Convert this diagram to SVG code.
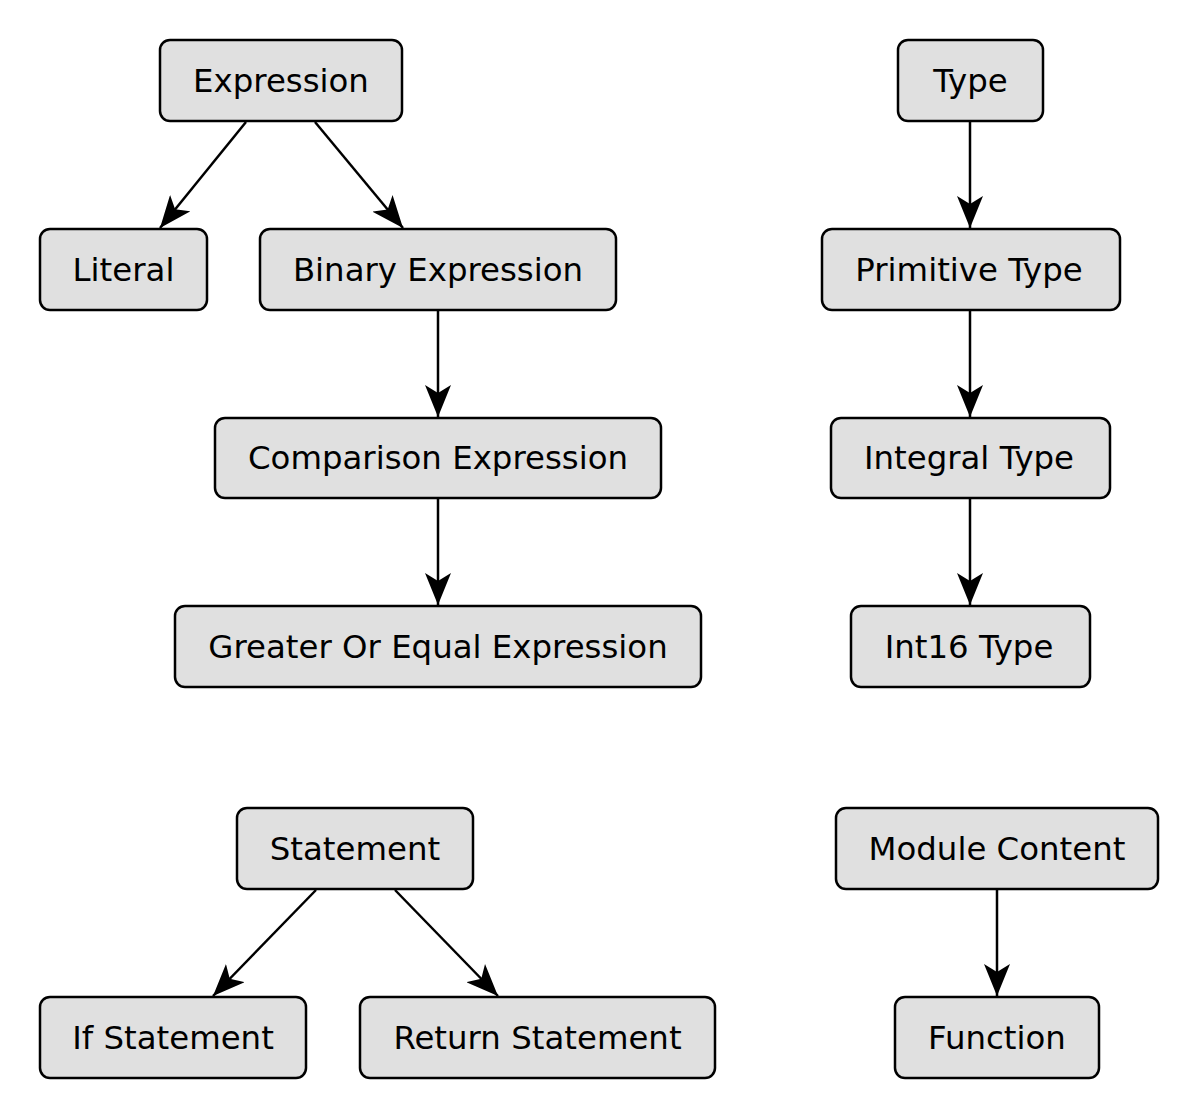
<svg xmlns="http://www.w3.org/2000/svg" width="1200" height="1119" viewBox="0 0 1200 1119">
<style>
.box{fill:#e0e0e0;stroke:#000;stroke-width:2.5}
.lbl{font-family:"DejaVu Sans",sans-serif;font-size:32.4px;fill:#000;text-anchor:middle}
.edge{stroke:#000;stroke-width:2.5;fill:none;marker-end:url(#arr)}
</style>
<defs>
<marker id="arr" viewBox="0 0 32 26" refX="32" refY="13" markerWidth="32" markerHeight="26" markerUnits="userSpaceOnUse" orient="auto">
<path d="M0,0 L32,13 L0,26 L8,13 Z" fill="#000"/>
</marker>
</defs>
<rect width="1200" height="1119" fill="#fff"/>
<g id="connectors">
<line class="edge" x1="246" y1="122" x2="160" y2="228"/>
<line class="edge" x1="315" y1="122" x2="403" y2="228"/>
<line class="edge" x1="438" y1="311" x2="438" y2="417"/>
<line class="edge" x1="438" y1="499" x2="438" y2="605"/>
<line class="edge" x1="970" y1="122" x2="970" y2="228"/>
<line class="edge" x1="970" y1="311" x2="970" y2="417"/>
<line class="edge" x1="970" y1="499" x2="970" y2="605"/>
<line class="edge" x1="316" y1="890" x2="213" y2="996"/>
<line class="edge" x1="395" y1="890" x2="498" y2="996"/>
<line class="edge" x1="997" y1="890" x2="997" y2="996"/>
</g>
<g id="expression"><rect class="box" x="160" y="40" width="242" height="81" rx="10"/><text class="lbl" x="281" y="92">Expression</text></g>
<g id="literal"><rect class="box" x="40" y="229" width="167" height="81" rx="10"/><text class="lbl" x="123.5" y="281">Literal</text></g>
<g id="binary"><rect class="box" x="260" y="229" width="356" height="81" rx="10"/><text class="lbl" x="438" y="281">Binary Expression</text></g>
<g id="comparison"><rect class="box" x="215" y="418" width="446" height="80" rx="10"/><text class="lbl" x="438" y="469">Comparison Expression</text></g>
<g id="greater"><rect class="box" x="175" y="606" width="526" height="81" rx="10"/><text class="lbl" x="438" y="658">Greater Or Equal Expression</text></g>
<g id="type"><rect class="box" x="898" y="40" width="145" height="81" rx="10"/><text class="lbl" x="970.5" y="92">Type</text></g>
<g id="primitive"><rect class="box" x="822" y="229" width="298" height="81" rx="10"/><text class="lbl" x="969" y="281">Primitive Type</text></g>
<g id="integral"><rect class="box" x="831" y="418" width="279" height="80" rx="10"/><text class="lbl" x="969" y="469">Integral Type</text></g>
<g id="int16"><rect class="box" x="851" y="606" width="239" height="81" rx="10"/><text class="lbl" x="969" y="658">Int16 Type</text></g>
<g id="statement"><rect class="box" x="237" y="808" width="236" height="81" rx="10"/><text class="lbl" x="355" y="860">Statement</text></g>
<g id="if"><rect class="box" x="40" y="997" width="266" height="81" rx="10"/><text class="lbl" x="173" y="1049">If Statement</text></g>
<g id="return"><rect class="box" x="360" y="997" width="355" height="81" rx="10"/><text class="lbl" x="537.5" y="1049">Return Statement</text></g>
<g id="module"><rect class="box" x="836" y="808" width="322" height="81" rx="10"/><text class="lbl" x="997" y="860">Module Content</text></g>
<g id="function"><rect class="box" x="895" y="997" width="204" height="81" rx="10"/><text class="lbl" x="997" y="1049">Function</text></g>
</svg>
